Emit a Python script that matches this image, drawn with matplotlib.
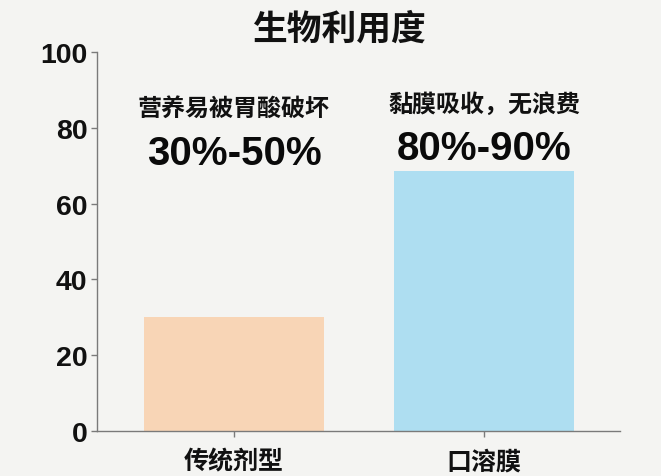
import matplotlib
matplotlib.use("Agg")
import matplotlib.pyplot as plt

# --- data ---
categories = ["传统剂型", "口溶膜"]
values = [30, 68.5]
notes = ["营养易被胃酸破坏", "黏膜吸收，无浪费"]
ranges = ["30%-50%", "80%-90%"]
y_ticks = [0, 20, 40, 60, 80, 100]

bar_colors = ["#F8D5B6", "#AEDEF1"]
bg = "#F4F4F2"
spine_gray = "#7A7A7A"

num_font = ["Liberation Sans", "DejaVu Sans"]
cjk = ["Noto Sans CJK SC", "DejaVu Sans"]

fig = plt.figure(figsize=(6.61, 4.77), dpi=100, facecolor=bg)
ax = fig.add_axes([97 / 661, 45 / 477, (620 - 97) / 661, (432 - 53) / 477])
ax.set_facecolor(bg)

x = list(range(len(categories)))
ax.bar(x, values, width=0.72, color=bar_colors, zorder=2)

ax.set_xlim(-0.548, 1.544)
ax.set_ylim(0, 100)
ax.set_yticks(y_ticks)
ax.set_xticks(x)
ax.set_xticklabels(categories, family=cjk, fontsize=18, fontweight="bold")
for lab in ax.get_yticklabels():
    lab.set_family(num_font)
    lab.set_fontweight("bold")
    lab.set_fontsize(20.5)

for s in ["top", "right"]:
    ax.spines[s].set_visible(False)
for s in ["left", "bottom"]:
    ax.spines[s].set_color(spine_gray)
    ax.spines[s].set_linewidth(1.0)
ax.tick_params(axis="both", colors=spine_gray, length=4, width=1.0, labelcolor="#111111")
ax.tick_params(axis="y", pad=3)
ax.tick_params(axis="x", pad=9)

# annotations above bars
note_y = [85.2, 86.3]
range_y = [73.3, 74.6]
for i in x:
    ax.text(i, note_y[i], notes[i], ha="center", va="center", family=cjk,
            fontsize=17.3, fontweight="bold", color="#111111")
    ax.text(i, range_y[i], ranges[i], ha="center", va="center", family=num_font,
            fontsize=29, fontweight="bold", color="#0A0A0A")

fig.text(340 / 661, 1 - 29 / 477, "生物利用度", ha="center", va="center",
         family=cjk, fontsize=25, fontweight="bold", color="#111111")

fig.savefig("out.png", dpi=100, facecolor=bg)
